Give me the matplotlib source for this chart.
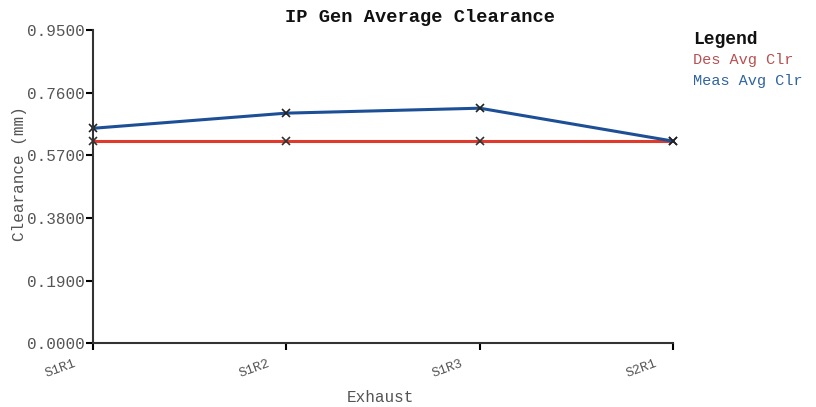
import matplotlib
matplotlib.use("Agg")
import matplotlib.pyplot as plt
import matplotlib.transforms as mtransforms

plt.rcParams['font.family'] = ['Liberation Mono', 'DejaVu Sans Mono']

stages = ['S1R1', 'S1R2', 'S1R3', 'S2R1']
des_avg_clr = [0.613, 0.613, 0.613, 0.613]
meas_avg_clr = [0.652, 0.698, 0.713, 0.613]
y_ticks = [0.0, 0.19, 0.38, 0.57, 0.76, 0.95]

red = '#e03a2c'
blue = '#1d4f96'
grey = '#555555'

fig = plt.figure(figsize=(8.16, 4.07), dpi=100)
ax = fig.add_axes([0.114, 0.157, 0.711, 0.769])

x = range(len(stages))
ax.plot(x, des_avg_clr, color=red, lw=2.2, marker='x', ms=6, mec='#333333',
        mew=1.2, clip_on=False)
ax.plot(x, meas_avg_clr, color=blue, lw=2.2, marker='x', ms=6, mec='#222222',
        mew=1.2, clip_on=False)

ax.set_xlim(0, len(stages) - 1)
ax.set_ylim(0, 0.95)
ax.set_yticks(y_ticks)
ax.set_yticklabels(['%.4f' % v for v in y_ticks], fontsize=11.5, color=grey)
ax.set_xticks(list(x))
ax.set_xticklabels([])
# rotated category labels sit down-left of their ticks
shift = mtransforms.ScaledTranslation(-19 / 100, -14 / 100, fig.dpi_scale_trans)
for i, name in zip(x, stages):
    ax.text(i, 0, name, transform=ax.get_xaxis_transform() + shift,
            fontsize=9.5, color=grey, rotation=20, ha='right', va='top',
            rotation_mode='anchor')
ax.tick_params(axis='x', direction='out', length=5, width=1.5)
ax.tick_params(axis='y', direction='out', length=5, width=1.5, pad=1)
for s in ['top', 'right']:
    ax.spines[s].set_visible(False)
for s in ['left', 'bottom']:
    ax.spines[s].set_linewidth(1.5)
    ax.spines[s].set_color('#333333')

fig.text(420 / 816, 1 - 17 / 407, 'IP Gen Average Clearance', fontsize=13.5,
         fontweight='bold', ha='center', va='center', color='#111111')
fig.text(380 / 816, 1 - 398 / 407, 'Exhaust', fontsize=11.5, color=grey,
         ha='center', va='center')
fig.text(20 / 816, 1 - 174 / 407, 'Clearance (mm)', fontsize=11.5, color=grey,
         ha='center', va='center', rotation=90)

fig.text(693 / 816, 1 - 40 / 407, 'Legend', fontsize=13, fontweight='bold',
         color='#111111', va='center')
fig.text(693 / 816, 1 - 60 / 407, 'Des Avg Clr', fontsize=11, color='#b85050',
         va='center')
fig.text(693 / 816, 1 - 81 / 407, 'Meas Avg Clr', fontsize=11, color='#2f64a0',
         va='center')

fig.savefig('out.png', dpi=100)
